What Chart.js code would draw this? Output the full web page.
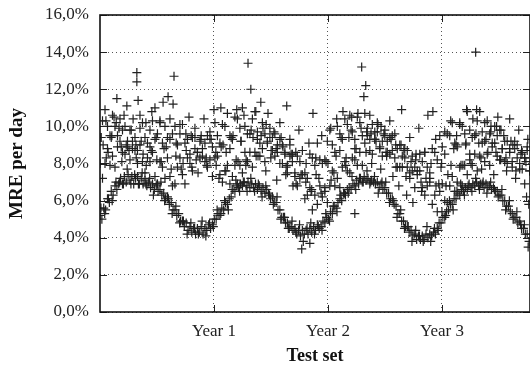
<!DOCTYPE html>
<html>
<head>
<meta charset="utf-8">
<script src="https://cdn.jsdelivr.net/npm/chart.js@4"></script>
<style>
  html, body { margin: 0; padding: 0; background: #fff; }
  #wrap { width: 530px; height: 369px; }
</style>
</head>
<body>
<div id="wrap"><canvas id="mainChart"></canvas></div>
<script>
// x axis: days since start of test set, one tick per year
const yearTickDays = [365, 730, 1095];
const yearTickLabels = ["Year 1", "Year 2", "Year 3"];
const lastDay = 1377;

// lowest (tight) seasonal band, one value every 6 days
const bandAStep = 6;
const bandA = [
  5.2,5.0,5.6,5.5,6.1,5.9,6.5,6.3,6.8,6.6,
  6.9,7.2,6.9,7.3,7.0,7.4,7.1,7.3,6.9,7.2,
  7.3,6.9,7.2,6.9,7.1,6.8,7.0,6.7,6.9,6.6,
  6.8,6.5,6.6,6.3,6.4,6.1,6.2,5.8,5.9,5.5,
  5.5,5.2,5.3,4.9,4.9,4.6,4.8,4.4,4.6,4.3,
  4.5,4.2,4.5,4.3,4.6,4.2,4.5,4.4,4.7,4.5,
  4.7,5.0,5.0,5.3,5.2,5.6,5.5,5.9,5.8,6.1,
  6.2,6.6,6.5,6.8,6.7,6.9,6.8,7.0,6.8,7.0,
  6.7,6.9,6.7,6.9,6.6,6.8,6.5,6.7,6.4,6.6,
  6.4,6.1,6.2,5.9,5.9,5.5,5.5,5.1,5.1,4.8,
  4.8,4.5,4.6,4.4,4.5,4.2,4.4,4.1,4.4,4.2,
  4.4,4.2,4.5,4.3,4.6,4.4,4.7,4.5,4.6,4.9,
  4.8,5.1,5.0,5.4,5.3,5.7,5.6,5.9,6.1,6.0,
  6.4,6.3,6.6,6.7,6.6,6.9,6.8,7.1,6.9,7.2,
  7.0,7.3,7.1,7.2,6.9,7.1,7.0,6.9,7.0,6.7,
  6.9,6.6,6.7,6.4,6.4,6.1,6.1,5.8,5.7,5.3,
  5.3,4.9,4.9,4.6,4.6,4.3,4.4,4.1,4.2,3.9,
  4.1,3.9,4.1,3.9,4.2,4.0,4.2,4.1,4.3,4.2,
  4.5,4.8,4.8,5.1,5.1,5.4,5.5,5.8,5.8,6.1,
  6.1,6.4,6.3,6.6,6.5,6.7,6.6,6.9,6.7,6.9,
  6.8,7.0,6.8,6.9,6.9,6.7,6.9,6.7,6.8,6.6,
  6.7,6.5,6.5,6.3,6.3,6.0,6.0,5.7,5.7,5.4,
  5.3,5.1,5.1,4.8,4.9,4.5,4.5,4.2,4.2,3.8
];

// second, looser pass over the low band: day 3, then every 12 days
const bandA2Start = 3;
const bandA2Step = 12;
const bandA2 = [
  5.6,5.3,6.1,6.0,7.0,7.0,6.9,7.7,6.9,7.4,
  6.9,7.5,6.9,7.2,6.3,6.9,7.0,6.0,6.1,5.3,
  5.7,4.8,4.9,4.2,4.8,4.5,4.2,4.9,4.1,4.8,
  4.6,5.5,5.3,6.0,5.5,6.6,7.1,6.5,7.0,6.5,
  7.2,6.5,6.9,6.2,6.8,6.3,5.8,6.2,5.0,5.1,
  4.5,4.9,4.3,4.7,3.8,4.5,4.8,4.2,4.6,4.4,
  5.3,4.9,5.7,5.4,6.3,6.4,6.4,7.3,6.6,7.2,
  7.0,7.6,7.0,7.3,6.4,7.0,7.0,5.9,6.0,5.1,
  5.5,4.5,4.6,3.8,4.4,4.1,3.8,4.6,3.8,4.5,
  4.4,5.4,5.2,6.0,5.5,6.5,6.9,6.3,6.8,6.5,
  7.2,6.6,7.0,6.4,7.0,6.6,6.2,6.6,5.5,6.0,
  5.0,5.4,4.7,4.7,3.5
];

// middle band, one value every 8 days
const bandBStep = 8;
const bandB = [
  8.0,7.2,8.0,8.8,7.9,8.4,7.8,8.9,9.2,8.6,
  8.5,9.2,9.8,8.8,9.4,8.7,9.9,10.2,9.4,9.1,
  9.8,10.3,9.3,9.6,10.2,9.1,10.0,9.4,10.4,9.6,
  10.0,9.0,9.6,10.1,9.1,9.3,8.5,9.4,9.4,8.6,
  8.3,8.8,9.1,7.8,8.2,7.3,8.3,8.4,7.4,7.0,
  7.6,7.9,6.9,7.3,7.9,6.9,7.9,7.5,8.6,8.1,
  8.6,7.8,8.6,9.3,8.4,8.8,8.1,9.2,9.4,8.7,
  8.4,9.0,9.3,8.0,8.5,7.5,8.4,8.5,7.3,6.8,
  7.2,7.4,6.1,6.3,6.7,5.5,6.3,5.8,6.8,6.2,
  6.7,5.9,6.8,7.6,6.8,7.2,6.7,7.8,8.1,7.6,
  7.5,8.3,8.8,7.9,8.6,7.9,9.1,9.5,8.7,8.5,
  9.3,9.7,8.8,9.2,9.8,8.6,9.4,8.7,9.6,8.8,
  9.0,7.8,8.3,8.7,7.5,7.6,6.7,7.6,7.6,6.7,
  6.3,6.8,7.0,5.8,6.3,5.4,6.5,6.9,6.0,5.9,
  6.8,7.3,6.5,7.0,7.8,6.8,7.9,7.4,8.5,7.9,
  8.5,7.6,8.4,9.1,8.1,8.5,7.9,8.9,9.1,8.4,
  8.2,8.8,9.2,8.0,8.6,7.8,8.8,9.0,8.0,7.7,
  8.3,8.7,7.6
];

// upper (noisy) band, one value every 8 days
const bandCStep = 8;
const bandC = [
  9.4,10.3,10.9,10.0,9.5,10.6,10.0,9.5,10.4,9.8,
  10.0,8.9,8.2,9.2,8.7,8.0,9.0,8.1,7.5,8.3,
  8.1,8.6,7.3,6.9,8.1,7.8,7.2,8.3,7.3,6.8,
  6.9,7.8,8.3,7.4,6.9,8.3,8.0,7.6,8.8,8.6,
  9.2,8.4,8.1,9.5,9.3,8.9,10.2,9.5,9.1,10.1,
  10.0,10.7,9.5,9.3,10.5,10.4,9.9,11.0,10.0,9.6,
  9.6,10.4,10.8,9.7,9.1,10.2,9.6,9.1,9.9,9.4,
  9.6,8.6,8.0,9.0,8.6,7.9,9.0,8.1,7.5,8.4,
  8.1,8.7,7.5,7.2,8.5,8.3,7.9,9.1,8.2,8.0,
  8.2,9.2,9.8,9.0,8.6,10.0,9.6,9.3,10.4,10.1,
  10.6,9.7,9.3,10.5,10.2,9.5,10.7,9.9,9.3,10.1,
  9.7,10.2,8.9,8.4,9.5,9.2,8.5,9.5,8.3,7.8,
  7.8,8.4,8.8,7.8,7.2,8.4,7.8,7.4,8.5,8.1,
  8.6,7.8,7.5,8.8,8.6,8.2,9.5,8.9,8.5,9.6,
  9.5,10.2,9.1,8.9,10.2,10.0,9.6,10.8,9.8,9.4,
  9.5,10.3,10.8,9.7,9.2,10.3,9.6,9.1,10.0,9.5,
  9.8,8.8,8.1,9.2,8.8,8.1,9.2,8.3,7.7,8.6,
  8.3,8.9,7.6
];

// filler between bands B and C: day 4, then every 16 days
const bandEStart = 4;
const bandEStep = 16;
const bandE = [
  9.4,8.3,9.4,10.2,8.9,9.0,9.8,8.3,9.2,7.9,
  8.7,9.4,8.1,8.9,7.7,9.1,7.7,8.7,9.5,8.2,
  9.5,8.3,9.3,7.9,8.9,8.6,9.4,8.2,9.2,8.2,
  9.8,8.4,9.5,10.1,8.7,8.8,9.4,7.8,8.5,6.9,
  7.4,8.0,6.5,7.4,6.4,8.1,7.1,8.4,9.4,8.3,
  9.8,8.8,9.9,8.6,9.6,9.2,10.0,8.6,9.3,7.8,
  9.0,7.3,8.1,8.5,7.0,7.2,8.0,6.8,7.8,6.8,
  7.9,9.0,7.9,9.1,8.0,9.6,8.3,9.3,10.0,8.6,
  9.8,8.3,9.2,7.6,8.5,8.1
];

// scattered days (outliers and in-between points)
const scatterDays = [
  10,19,26,38,45,54,61,70,77,86,93,106,115,118,118,122,128,138,147,160,
  166,176,182,192,202,205,218,224,234,237,243,256,266,275,285,294,304,314,323,333,
  342,352,365,371,381,387,394,403,416,426,438,442,451,461,467,474,483,490,499,506,
  515,522,531,538,547,557,566,576,586,595,598,608,618,627,637,646,672,659,669,678,
  682,691,701,710,720,730,739,749,758,768,816,778,787,797,806,816,826,838,845,851,
  854,864,870,880,890,899,909,918,928,938,947,957,966,973,982,992,1002,1011,1021,1030,
  1040,1050,1056,1066,1075,1085,1094,1104,1114,1123,1133,1142,1152,1162,1171,1174,1184,1194,1203,1206,
  1213,1222,1232,1242,1251,1261,1270,1274,1283,1293,1302,1312,1322,1331,1341,1350,1360,1366,1370,1373
];
const scatterValues = [
  9.0,10.3,8.6,9.5,10.5,11.5,9.9,8.1,10.6,11.1,8.7,10.4,9.0,12.9,12.4,11.4,10.6,8.5,10.2,8.9,
  10.8,11.0,8.2,10.3,11.3,8.8,11.6,9.3,11.2,12.7,8.4,10.1,8.0,9.6,10.5,7.8,9.9,7.5,9.3,10.4,
  7.9,9.7,10.9,8.6,7.2,11.0,9.0,7.6,8.8,9.5,10.9,8.1,9.2,10.6,7.9,13.4,12.0,9.4,10.8,8.4,
  11.3,9.9,7.6,10.7,8.3,9.7,7.1,10.2,8.9,7.4,11.1,9.3,6.8,8.6,9.8,3.4,3.7,7.0,9.1,6.6,
  10.7,8.3,7.2,9.5,6.5,8.0,9.9,7.5,10.4,8.7,5.3,10.8,7.9,9.4,10.5,8.2,10.7,13.2,11.6,12.2,
  9.7,10.6,8.0,9.3,10.1,7.7,9.6,8.4,10.3,7.3,9.0,6.8,10.9,8.7,6.3,9.4,5.9,8.2,9.9,6.5,
  8.6,10.6,7.2,10.8,9.3,6.9,8.0,9.7,7.4,10.3,8.8,9.5,10.1,7.9,9.0,10.9,8.2,10.4,14.0,10.9,
  9.1,7.7,10.2,8.6,9.7,7.4,10.0,10.5,8.2,9.5,7.6,10.4,9.0,7.2,9.8,8.7,6.9,6.2,9.3,5.8
];

function toPoints(values, step, start = 0) {
  return values.map((v, i) => ({ x: start + i * step, y: v }));
}

function pct(v) {
  return v.toFixed(1).replace(".", ",") + "%";
}

const markStyle = {
  showLine: false,
  pointStyle: "cross",
  pointRadius: 4.5,
  pointHoverRadius: 4.5,
  borderWidth: 1.2,
  borderColor: "#202020",
  backgroundColor: "#202020"
};

// frame + inward tick marks, like the original gnuplot look
const framePlugin = {
  id: "frame",
  afterDatasetsDraw(chart) {
    const { ctx, chartArea: a, scales } = chart;
    ctx.save();
    ctx.strokeStyle = "#222";
    ctx.lineWidth = 1;
    scales.y.ticks.forEach(t => {
      const py = Math.round(scales.y.getPixelForValue(t.value)) + 0.5;
      ctx.beginPath();
      ctx.moveTo(a.left, py); ctx.lineTo(a.left + 7, py);
      ctx.moveTo(a.right, py); ctx.lineTo(a.right - 7, py);
      ctx.stroke();
    });
    scales.x.ticks.forEach(t => {
      const px = Math.round(scales.x.getPixelForValue(t.value)) + 0.5;
      ctx.beginPath();
      ctx.moveTo(px, a.bottom); ctx.lineTo(px, a.bottom - 7);
      ctx.moveTo(px, a.top); ctx.lineTo(px, a.top + 7);
      ctx.stroke();
    });
    ctx.lineWidth = 1.6;
    ctx.strokeStyle = "#111";
    ctx.strokeRect(a.left, a.top, a.right - a.left, a.bottom - a.top);
    ctx.restore();
  }
};

const gridStyle = {
  color: "#555",
  lineWidth: 1,
  tickLength: 0
};

new Chart(document.getElementById("mainChart"), {
  type: "scatter",
  data: {
    datasets: [
      { ...markStyle, data: toPoints(bandA, bandAStep) },
      { ...markStyle, data: toPoints(bandA2, bandA2Step, bandA2Start) },
      { ...markStyle, data: toPoints(bandB, bandBStep) },
      { ...markStyle, data: toPoints(bandC, bandCStep) },
      { ...markStyle, data: toPoints(bandE, bandEStep, bandEStart) },
      { ...markStyle, data: scatterDays.map((d, i) => ({ x: d, y: scatterValues[i] })) }
    ]
  },
  options: {
    responsive: true,
    maintainAspectRatio: false,
    animation: false,
    events: [],
    layout: { autoPadding: false, padding: { left: 6, right: 0, top: 15, bottom: 2 } },
    plugins: { legend: { display: false }, tooltip: { enabled: false } },
    scales: {
      x: {
        type: "linear",
        min: 0,
        max: lastDay,
        afterBuildTicks: s => { s.ticks = yearTickDays.map(v => ({ value: v })); },
        afterFit: s => {
          s.height = 55;
          s.paddingLeft = 0; s.paddingRight = 0;
        },
        grid: { ...gridStyle },
        border: { display: false, dash: [1, 3] },
        ticks: {
          color: "#222",
          font: { family: "Liberation Serif", size: 17 },
          padding: 9,
          maxRotation: 0,
          callback: v => yearTickLabels[yearTickDays.indexOf(v)]
        },
        title: {
          display: true,
          text: "Test set",
          color: "#111",
          font: { family: "Liberation Serif", size: 18, weight: "bold" },
          padding: { top: 4, bottom: 0 }
        }
      },
      y: {
        min: 0,
        max: 16,
        afterFit: s => {
          s.width = 94;
          s.paddingTop = 0; s.paddingBottom = 0;
        },
        grid: { ...gridStyle },
        border: { display: false, dash: [1, 3] },
        ticks: {
          stepSize: 2,
          color: "#222",
          font: { family: "Liberation Serif", size: 17 },
          padding: 11,
          callback: v => pct(v)
        },
        title: {
          display: true,
          text: "MRE per day",
          color: "#111",
          font: { family: "Liberation Serif", size: 19, weight: "bold" },
          padding: { top: 0, bottom: 0 }
        }
      }
    }
  },
  plugins: [framePlugin]
});
</script>
</body>
</html>
